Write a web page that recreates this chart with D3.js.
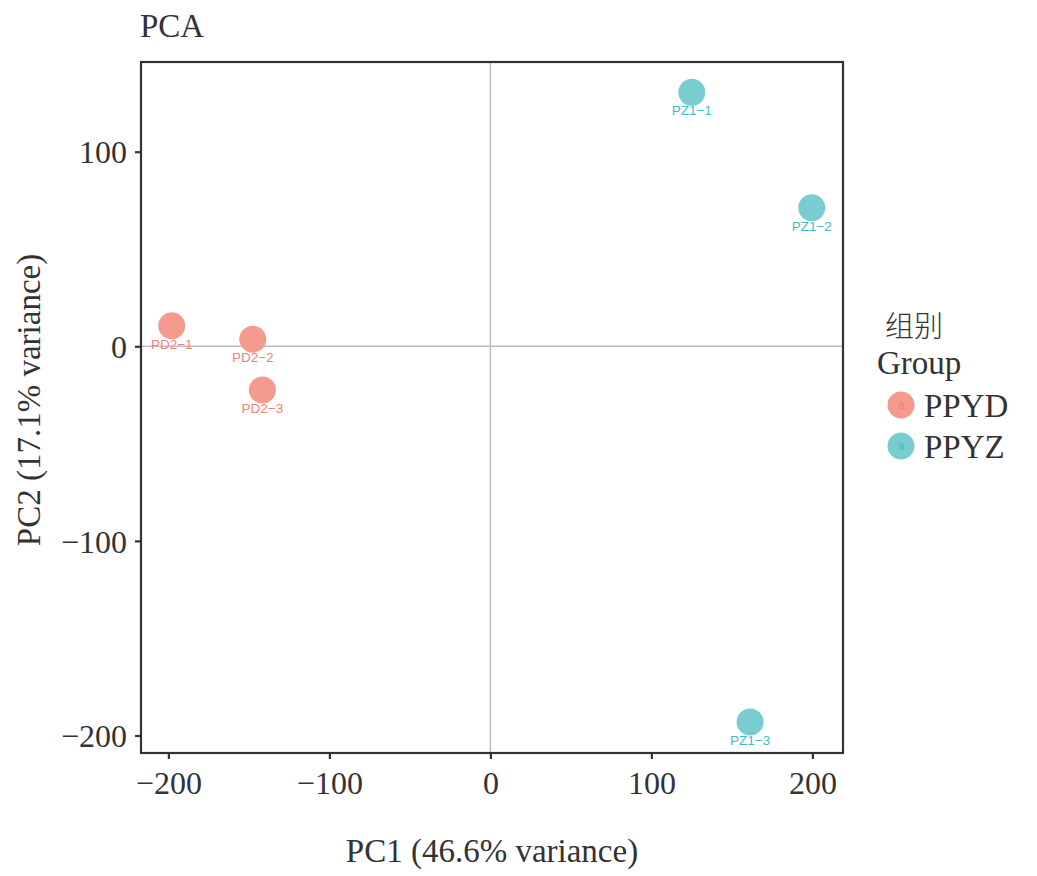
<!DOCTYPE html>
<html lang="en">
  <head>
    <meta charset="UTF-8" />
    <title>PCA</title>
    <style>
      body { margin: 0; background: #fff; }
    </style>
  </head>
  <body>
    <svg id="svg" width="1037" height="876"></svg>

    <script src="https://cdn.jsdelivr.net/npm/d3@7"></script>
    <script>
      // data
      const samples = ["PD2-1", "PD2-2", "PD2-3", "PZ1-1", "PZ1-2", "PZ1-3"];
      const groups = ["PPYD", "PPYD", "PPYD", "PPYZ", "PPYZ", "PPYZ"];
      const pc1 = [-197.9, -147.6, -141.6, 125.1, 199.6, 161.3];
      const pc2 = [10.6, 3.6, -22.4, 130.5, 71.2, -193.1];
      const xTicks = [-200, -100, 0, 100, 200];
      const yTicks = [-200, -100, 0, 100];
      const groupNames = ["PPYD", "PPYZ"];
      const pointColors = ["#F59B8D", "#79CDD1"];
      const labelColors = ["#EC8378", "#3EBEC2"];

      const PANEL = { left: 141, right: 843, top: 62, bottom: 753 };
      const SERIF = "'Liberation Serif', 'Times New Roman', serif";
      const SANS = "'Liberation Sans', Arial, sans-serif";

      const data = samples.map((s, i) => ({ name: s, group: groups[i], x: pc1[i], y: pc2[i] }));

      const xScale = d3.scaleLinear().domain([-217, 219]).range([PANEL.left, PANEL.right]);
      const yScale = d3.scaleLinear().domain([-209, 146.1]).range([PANEL.bottom, PANEL.top]);
      const fill = d3.scaleOrdinal().domain(groupNames).range(pointColors);
      const ink = d3.scaleOrdinal().domain(groupNames).range(labelColors);

      const svg = d3.select("#svg");
      const fmt = (d) => (d < 0 ? "\u2212" + Math.abs(d) : String(d));

      // zero lines
      svg.append("line")
        .attr("x1", xScale(0)).attr("x2", xScale(0))
        .attr("y1", PANEL.top).attr("y2", PANEL.bottom)
        .attr("stroke", "#bebebe").attr("stroke-width", 1.5);
      svg.append("line")
        .attr("x1", PANEL.left).attr("x2", PANEL.right)
        .attr("y1", yScale(0)).attr("y2", yScale(0))
        .attr("stroke", "#bebebe").attr("stroke-width", 1.5);

      // axes
      const bottomAxis = d3.axisBottom(xScale).tickValues(xTicks).tickFormat(fmt).tickSize(6).tickPadding(12);
      const leftAxis = d3.axisLeft(yScale).tickValues(yTicks).tickFormat(fmt).tickSize(6).tickPadding(8);

      const gx = svg.append("g").attr("transform", `translate(0, ${PANEL.bottom})`).call(bottomAxis);
      const gy = svg.append("g").attr("transform", `translate(${PANEL.left}, 0)`).call(leftAxis);
      [gx, gy].forEach((g) => {
        g.select(".domain").remove();
        g.selectAll(".tick line").attr("stroke", "#333").attr("stroke-width", 2.2);
        g.selectAll(".tick text").attr("fill", "#333").style("font-family", SERIF).style("font-size", "32px");
      });
      gy.selectAll(".tick text").attr("dy", "0.35em");

      // panel border
      svg.append("rect")
        .attr("x", PANEL.left).attr("y", PANEL.top)
        .attr("width", PANEL.right - PANEL.left).attr("height", PANEL.bottom - PANEL.top)
        .attr("fill", "none").attr("stroke", "#333").attr("stroke-width", 2.2);

      // points
      svg.append("g").selectAll("circle")
        .data(data)
        .enter()
        .append("circle")
        .attr("cx", (d) => xScale(d.x))
        .attr("cy", (d) => yScale(d.y))
        .attr("r", 13.5)
        .attr("fill", (d) => fill(d.group));

      // sample labels
      svg.append("g").selectAll("text")
        .data(data)
        .enter()
        .append("text")
        .attr("x", (d) => xScale(d.x))
        .attr("y", (d) => yScale(d.y) + 23)
        .attr("text-anchor", "middle")
        .attr("fill", (d) => ink(d.group))
        .style("font-family", SANS)
        .style("font-size", "13.5px")
        .text((d) => d.name.replace("-", "\u2212"));

      // titles
      svg.append("text")
        .attr("x", 140).attr("y", 37)
        .attr("fill", "#333")
        .style("font-family", SERIF).style("font-size", "33px")
        .text("PCA");
      svg.append("text")
        .attr("x", (PANEL.left + PANEL.right) / 2).attr("y", 862)
        .attr("text-anchor", "middle").attr("fill", "#333")
        .style("font-family", SERIF).style("font-size", "33px")
        .text("PC1 (46.6% variance)");
      svg.append("text")
        .attr("transform", `translate(40, 400) rotate(-90)`)
        .attr("text-anchor", "middle").attr("fill", "#333")
        .style("font-family", SERIF).style("font-size", "33px")
        .text("PC2 (17.1% variance)");

      // legend
      const legend = svg.append("g");
      legend.append("text")
        .attr("x", 885).attr("y", 337)
        .attr("fill", "#333")
        .style("font-family", "'Noto Sans CJK SC', serif").style("font-size", "29px")
        .style("font-weight", 300)
        .text("组别");
      legend.append("text")
        .attr("x", 877).attr("y", 374)
        .attr("fill", "#333")
        .style("font-family", SERIF).style("font-size", "33px")
        .text("Group");
      const items = legend.selectAll("g.item")
        .data(groupNames)
        .enter()
        .append("g")
        .attr("class", "item")
        .attr("transform", (d, i) => `translate(901, ${405 + i * 41})`);
      items.append("circle")
        .attr("r", 13.5)
        .attr("fill", (d) => fill(d));
      items.append("text")
        .attr("text-anchor", "middle").attr("dy", "0.35em")
        .attr("fill", (d) => ink(d))
        .style("font-family", SANS).style("font-size", "12px")
        .text("a");
      items.append("text")
        .attr("x", 23).attr("dy", "0.35em")
        .attr("fill", "#333")
        .style("font-family", SERIF).style("font-size", "33px")
        .text((d) => d);
    </script>
  </body>
</html>
